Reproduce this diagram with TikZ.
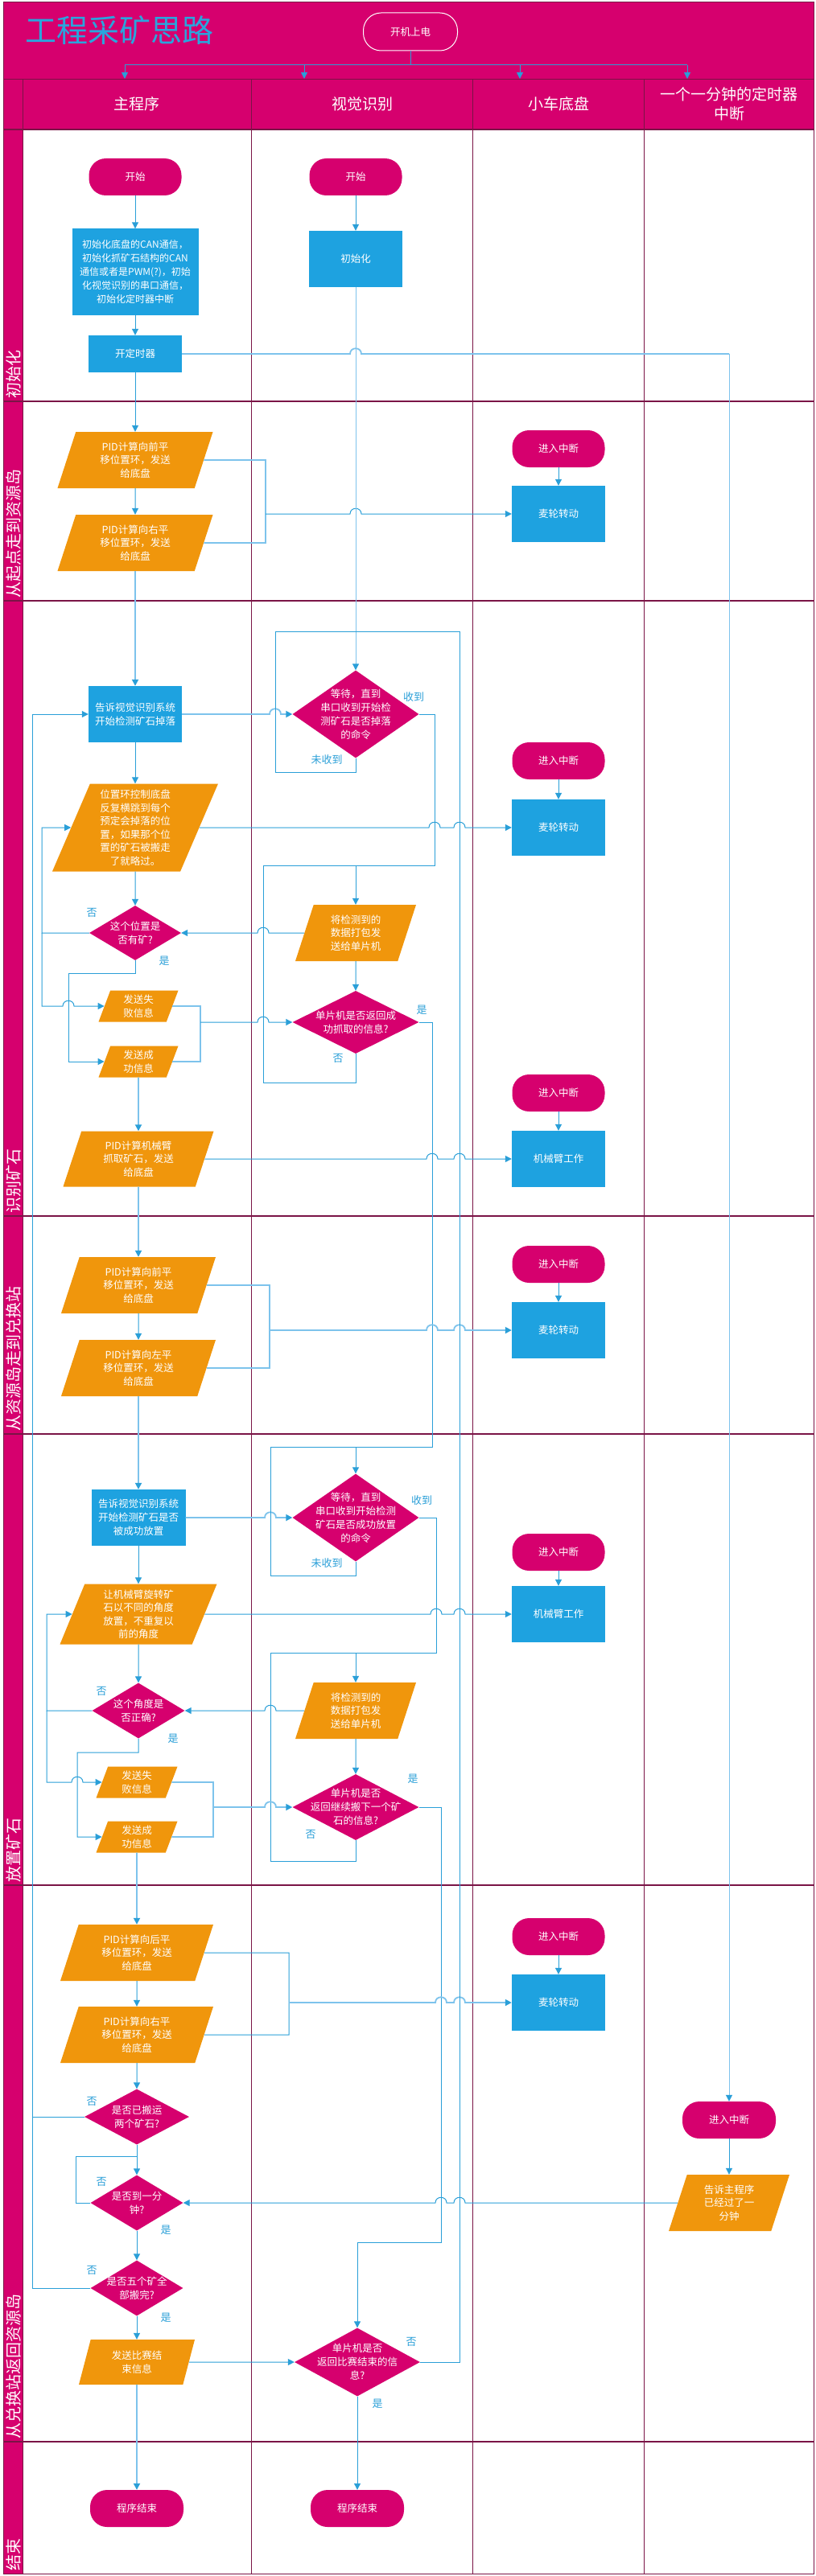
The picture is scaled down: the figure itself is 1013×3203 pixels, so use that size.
\documentclass[tikz,border=0pt]{standalone}
\usepackage{fontspec}
\setmainfont{Noto Sans CJK SC}
\usetikzlibrary{shapes.geometric,arrows.meta}

\definecolor{mag}{HTML}{D6006E}
\definecolor{boxblue}{HTML}{1EA2E0}
\definecolor{orng}{HTML}{F0960C}
\definecolor{lineblue}{HTML}{2A9FD8}
\definecolor{lightblue}{HTML}{7DC3EC}
\definecolor{gridline}{HTML}{7A1446}
\definecolor{titleblue}{HTML}{2AA5DD}

\newcommand\txtsize{\fontsize{12.5pt}{17pt}\selectfont}
% line jumps over a vertical line at x=#1, y=#2
\newcommand\jr[2]{-- (#1-7,#2) .. controls (#1-7,#2-9) and (#1+7,#2-9) .. (#1+7,#2)}
\newcommand\jl[2]{-- (#1+7,#2) .. controls (#1+7,#2-9) and (#1-7,#2-9) .. (#1-7,#2)}

\tikzset{
  base/.style={inner sep=1pt, text=white, font=\txtsize, align=center},
  term/.style={base, rectangle, rounded corners=21pt, fill=mag, minimum width=115, minimum height=46},
  proc/.style={base, rectangle, fill=boxblue, minimum width=116, minimum height=70},
  io/.style={base, font=\fontsize{12.5pt}{16.5pt}\selectfont, trapezium, trapezium left angle=64, trapezium right angle=116,
    trapezium stretches body, fill=orng, minimum width=193, minimum height=70},
  dec/.style={diamond, fill=mag, inner sep=0pt, minimum width=157, minimum height=109},
  ln/.style={draw=lineblue, line width=1pt},
  lln/.style={draw=lightblue, line width=1.8pt},
  tag/.style={text=lineblue, font=\fontsize{13pt}{15pt}\selectfont, inner sep=0pt},
  rowlab/.style={text=white, font=\fontsize{20pt}{22pt}\selectfont, rotate=90, anchor=west, inner sep=0pt},
  lanehead/.style={text=white, font=\fontsize{19pt}{24pt}\selectfont, align=center},
  >={Triangle[length=8pt,width=8pt,color=lineblue]}
}

\begin{document}
\begin{tikzpicture}[x=1pt,y=-1pt]
  \useasboundingbox (0,0) rectangle (1013,3203);
  \fill[white] (0,0) rectangle (1013,3203);

  % lanes
  \fill[mag] (4.5,3) rectangle (1011,161);
  \fill[mag] (4.5,161) rectangle (28.5,3200);
  \draw[gridline] (4.5,98) -- (1011,98);
  \foreach \y in {161,499,747,1512,1783,2344,3036} \draw[gridline,line width=1.2pt] (4.5,\y) -- (1011,\y);
  \foreach \x in {28.5,312,587,800} \draw[gridline] (\x,98) -- (\x,3200);
  \draw[gridline,line width=1pt] (4.5,3) rectangle (1011,3200);

  \node[anchor=west,inner sep=0pt,text=titleblue,font=\fontsize{39pt}{41pt}\selectfont] (title) at (31,38) {工程采矿思路};
  \node[term,draw=white,line width=1pt,minimum width=117,minimum height=47,rounded corners=22pt] (power) at (510,39.5) {开机上电};

  \node[lanehead] (hmain) at (170,129) {主程序};
  \node[lanehead] (hvis) at (450,129) {视觉识别};
  \node[lanehead] (hcar) at (694,129) {小车底盘};
  \node[lanehead] (htim) at (906,129) {一个一分钟的定时器\\中断};

  \foreach \y/\t [count=\i] in {496/初始化,744/从起点走到资源岛,1509/识别矿石,1780/从资源岛走到兑换站,
      2341/放置矿石,3033/从兑换站返回资源岛,3197/结束}
    \node[rowlab] (row\i) at (16.5,\y) {\t};

  % init
  \node[term] (start1) at (168,220) {开始};
  \node[proc,minimum width=157,minimum height=107,font=\fontsize{12pt}{17pt}\selectfont] (init1) at (168,338)
    {初始化底盘的CAN通信，\\初始化抓矿石结构的CAN\\通信或者是PWM(?)，初始\\化视觉识别的串口通信，\\初始化定时器中断};
  \node[proc,minimum height=46] (timer1) at (168,440) {开定时器};
  \node[term] (start2) at (442,220) {开始};
  \node[proc] (vinit) at (442,322) {初始化};

  % to the resource island
  \node[io] (pid1) at (168,572) {PID计算向前平\\移位置环，发送\\给底盘};
  \node[io] (pid2) at (168,675) {PID计算向右平\\移位置环，发送\\给底盘};
  \node[term] (int1) at (694,558) {进入中断};
  \node[proc] (wheel1) at (694,639) {麦轮转动};

  % find the ore
  \node[proc] (tell1) at (168,888) {告诉视觉识别系统\\开始检测矿石掉落};
  \node[io,minimum width=206,minimum height=109] (pos) at (168,1029)
    {位置环控制底盘\\反复横跳到每个\\预定会掉落的位\\置，如果那个位\\置的矿石被搬走\\了就略过。};
  \node[dec,minimum width=114,minimum height=68] (dpos) at (168,1160) {};
  \node[base] (dpost) at (dpos) {这个位置是\\否有矿?};
  \node[io,minimum width=99,minimum height=39] (fail1) at (172,1251) {发送失\\败信息};
  \node[io,minimum width=99,minimum height=39] (succ1) at (172,1320) {发送成\\功信息};
  \node[io,minimum width=187,minimum height=69] (armpid) at (172,1441) {PID计算机械臂\\抓取矿石，发送\\给底盘};
  \node[dec] (wait1) at (442,888) {};
  \node[base] (wait1t) at (wait1) {等待，直到\\串口收到开始检\\测矿石是否掉落\\的命令};
  \node[io,minimum width=150] (pack1) at (442,1160) {将检测到的\\数据打包发\\送给单片机};
  \node[dec,minimum height=78] (ret1) at (442,1271) {};
  \node[base] (ret1t) at (ret1) {单片机是否返回成\\功抓取的信息?};
  \node[term] (int2) at (694,946) {进入中断};
  \node[proc] (wheel2) at (694,1029) {麦轮转动};
  \node[term] (int3) at (694,1359) {进入中断};
  \node[proc] (arm1) at (694,1441) {机械臂工作};

  % to the exchange station
  \node[io,minimum width=192] (pid3) at (172,1598) {PID计算向前平\\移位置环，发送\\给底盘};
  \node[io,minimum width=192] (pid4) at (172,1701) {PID计算向左平\\移位置环，发送\\给底盘};
  \node[term] (int4) at (694,1572) {进入中断};
  \node[proc] (wheel3) at (694,1654) {麦轮转动};

  % place the ore
  \node[proc,minimum width=117] (tell2) at (172,1887) {告诉视觉识别系统\\开始检测矿石是否\\被成功放置};
  \node[io,minimum width=195,minimum height=75] (rot) at (172,2007) {让机械臂旋转矿\\石以不同的角度\\放置，不重复以\\前的角度};
  \node[dec,minimum width=115,minimum height=69] (dang) at (172,2127) {};
  \node[base] (dangt) at (dang) {这个角度是\\否正确?};
  \node[io,minimum width=101,minimum height=39] (fail2) at (170,2216) {发送失\\败信息};
  \node[io,minimum width=101,minimum height=39] (succ2) at (170,2284) {发送成\\功信息};
  \node[dec] (wait2) at (442,1887) {};
  \node[base] (wait2t) at (wait2) {等待，直到\\串口收到开始检测\\矿石是否成功放置\\的命令};
  \node[io,minimum width=150] (pack2) at (442,2127) {将检测到的\\数据打包发\\送给单片机};
  \node[dec,minimum height=82] (ret3) at (442,2247) {};
  \node[base] (ret3t) at (ret3) {单片机是否\\返回继续搬下一个矿\\石的信息?};
  \node[term] (int5) at (694,1930) {进入中断};
  \node[proc] (arm2) at (694,2007) {机械臂工作};

  % back to the resource island
  \node[io,minimum width=190] (pid5) at (170,2428) {PID计算向后平\\移位置环，发送\\给底盘};
  \node[io,minimum width=190] (pid6) at (170,2530) {PID计算向右平\\移位置环，发送\\给底盘};
  \node[term] (int6) at (694,2408) {进入中断};
  \node[proc] (wheel4) at (694,2490) {麦轮转动};
  \node[dec,minimum width=130,minimum height=69] (dtwo) at (170,2632) {};
  \node[base] (dtwot) at (dtwo) {是否已搬运\\两个矿石?};
  \node[dec,minimum width=115,minimum height=69] (dmin) at (170,2739) {};
  \node[base] (dmint) at (dmin) {是否到一分\\钟?};
  \node[dec,minimum width=115,minimum height=69] (dfive) at (170,2845) {};
  \node[base] (dfivet) at (dfive) {是否五个矿全\\部搬完?};
  \node[io,minimum width=144,minimum height=56] (send) at (170,2937) {发送比赛结\\束信息};
  \node[dec,minimum width=156,minimum height=85] (ret4) at (444,2937) {};
  \node[base] (ret4t) at (ret4) {单片机是否\\返回比赛结束的信\\息?};
  \node[term,minimum width=116] (tint) at (906,2636) {进入中断};
  \node[io,minimum width=150] (tmsg) at (906,2739) {告诉主程序\\已经过了一\\分钟};

  % end
  \node[term,minimum width=116] (end1) at (170,3119) {程序结束};
  \node[term,minimum width=116] (end2) at (444,3119) {程序结束};

  % power on
  \coordinate (split) at (510,81);
  \draw[ln] (power) -- (split);
  \draw[ln] (155,81) -- (854,81);
  \foreach \x in {155,378,646,854} \draw[ln,->] (\x,81) -- (\x,98);

  \draw[ln,->] (start1) -- (init1);
  \draw[ln,->] (init1) -- (timer1);
  \draw[ln,->] (start2) -- (vinit);
  \draw[lln] (timer1.east) \jr{442}{440} -- (906,440);
  \draw[draw=lightblue,line width=1pt,->] (906,440) -- (tint);
  \draw[ln,->] (timer1) -- (pid1);

  \draw[ln,->] (pid1) -- (pid2);
  \draw[lln] (pid1.east) -- (330,572) -- (330,675) -- (pid2.east);
  \draw[ln,->] (330,639) \jr{442}{639} -- (wheel1.west);
  \draw[ln,->] (int1) -- (wheel1);

  \draw[lln,->] (pid2) -- (tell1);
  \draw[lln,->] (tell1.east) \jr{342}{888} -- (wait1.west);
  \draw[ln,->] (tell1) -- (pos);
  \draw[draw=lightblue,line width=1pt,->] (vinit) -- (wait1);
  \draw[ln] (wait1.south) -- (442,960) -- (342,960) -- (342,785) -- (442,785);
  \draw[ln] (wait1.east) -- (540,888) -- (540,1076) -- (442,1076);
  \draw[ln,->] (442,1076) -- (pack1);
  \draw[ln,->] (pack1.west) \jl{327}{1160} -- (dpos.east);
  \draw[ln,->] (pack1) -- (ret1);
  \draw[ln] (ret1.south) -- (442,1346) -- (327,1346) -- (327,1076) -- (442,1076);
  \draw[ln] (ret1.east) -- (537,1271) -- (537,1799) -- (442,1799);
  \draw[ln,->] (pos) -- (dpos);
  \draw[ln,->] (dpos.west) -- (52,1160) -- (52,1029) -- (pos.west);
  \draw[ln,->] (52,1160) -- (52,1251) \jr{85}{1251} -- (fail1.west);
  \draw[ln,->] (dpos.south) -- (168,1210) -- (85,1210) -- (85,1320) -- (succ1.west);
  \draw[lln] (fail1.east) -- (249,1251) -- (249,1320) -- (succ1.east);
  \draw[ln,->] (249,1271) \jr{327}{1271} -- (ret1.west);
  \draw[lln,->] (succ1) -- (armpid);
  \draw[ln,->] (int2) -- (wheel2);
  \draw[ln,->] (pos.east) \jr{540}{1029} \jr{571}{1029} -- (wheel2.west);
  \draw[ln,->] (int3) -- (arm1);
  \draw[ln,->] (armpid.east) \jr{537}{1441} \jr{571}{1441} -- (arm1.west);

  \draw[lln,->] (armpid) -- (pid3);
  \draw[ln,->] (pid3) -- (pid4);
  \draw[lln] (pid3.east) -- (335,1598) -- (335,1701) -- (pid4.east);
  \draw[lln,->] (335,1654) \jr{537}{1654} \jr{571}{1654} -- (wheel3.west);
  \draw[ln,->] (int4) -- (wheel3);

  \draw[lln,->] (pid4) -- (tell2);
  \draw[lln,->] (tell2.east) \jr{336}{1887} -- (wait2.west);
  \draw[ln,->] (442,1799) -- (wait2);
  \draw[ln] (wait2.south) -- (442,1959) -- (336,1959) -- (336,1799) -- (442,1799);
  \draw[ln] (wait2.east) -- (542,1887) -- (542,2055) -- (442,2055);
  \draw[ln,->] (442,2055) -- (pack2);
  \draw[ln,->] (pack2.west) \jl{336}{2127} -- (dang.east);
  \draw[ln,->] (pack2) -- (ret3);
  \draw[ln] (ret3.south) -- (442,2314) -- (336,2314) -- (336,2055) -- (442,2055);
  \draw[ln] (ret3.east) -- (548,2247) -- (548,2788) -- (444,2788);
  \draw[ln,->] (444,2788) -- (ret4);
  \draw[ln,->] (tell2) -- (rot);
  \draw[ln,->] (rot) -- (dang);
  \draw[ln,->] (dang.west) -- (58,2127) -- (58,2007) -- (rot.west);
  \draw[ln,->] (58,2127) -- (58,2216) \jr{96}{2216} -- (fail2.west);
  \draw[ln,->] (dang.south) -- (172,2179) -- (96,2179) -- (96,2284) -- (succ2.west);
  \draw[lln] (fail2.east) -- (265,2216) -- (265,2284) -- (succ2.east);
  \draw[lln,->] (265,2247) \jr{336}{2247} -- (ret3.west);
  \draw[ln,->] (int5) -- (arm2);
  \draw[ln,->] (rot.east) \jr{542}{2007} \jr{571}{2007} -- (arm2.west);

  \draw[lln,->] (succ2) -- (pid5);
  \draw[ln,->] (pid5) -- (pid6);
  \draw[ln] (pid5.east) -- (359,2428) -- (359,2530) -- (pid6.east);
  \draw[lln,->] (359,2490) \jr{548}{2490} \jr{571}{2490} -- (wheel4.west);
  \draw[ln,->] (int6) -- (wheel4);
  \draw[ln,->] (pid6) -- (dtwo);
  \draw[ln,->] (dtwo.west) -- (40,2632) -- (40,888) -- (tell1.west);
  \draw[ln,->] (dtwo) -- (dmin);
  \draw[ln] (dmin.west) -- (94,2739) -- (94,2681) -- (170,2681);
  \draw[ln,->] (dmin) -- (dfive);
  \draw[ln] (dfive.west) -- (40,2845) -- (40,2632);
  \draw[ln,->] (dfive) -- (send);
  \draw[ln,->] (send.east) -- (ret4.west);
  \draw[ln] (ret4.east) -- (571,2937) -- (571,785) -- (442,785);
  \draw[ln,->] (tint) -- (tmsg);
  \draw[ln,->] (tmsg.west) \jl{571}{2739} \jl{548}{2739} -- (dmin.east);
  \draw[lln,->] (send) -- (end1);
  \draw[ln,->] (ret4) -- (end2);

  % yes / no
  \node[tag] (l1) at (514,867) {收到};
  \node[tag] (l2) at (406,945) {未收到};
  \node[tag] (l3) at (114,1135) {否};
  \node[tag] (l4) at (204,1195) {是};
  \node[tag] (l5) at (524,1256) {是};
  \node[tag] (l6) at (420,1316) {否};
  \node[tag] (l7) at (524,1866) {收到};
  \node[tag] (l8) at (406,1944) {未收到};
  \node[tag] (l9) at (126,2103) {否};
  \node[tag] (l10) at (215,2162) {是};
  \node[tag] (l11) at (513,2212) {是};
  \node[tag] (l12) at (386,2281) {否};
  \node[tag] (l13) at (114,2613) {否};
  \node[tag] (l14) at (126,2713) {否};
  \node[tag] (l15) at (206,2773) {是};
  \node[tag] (l16) at (114,2823) {否};
  \node[tag] (l17) at (206,2882) {是};
  \node[tag] (l18) at (511,2912) {否};
  \node[tag] (l19) at (469,2989) {是};
\end{tikzpicture}
\end{document}
